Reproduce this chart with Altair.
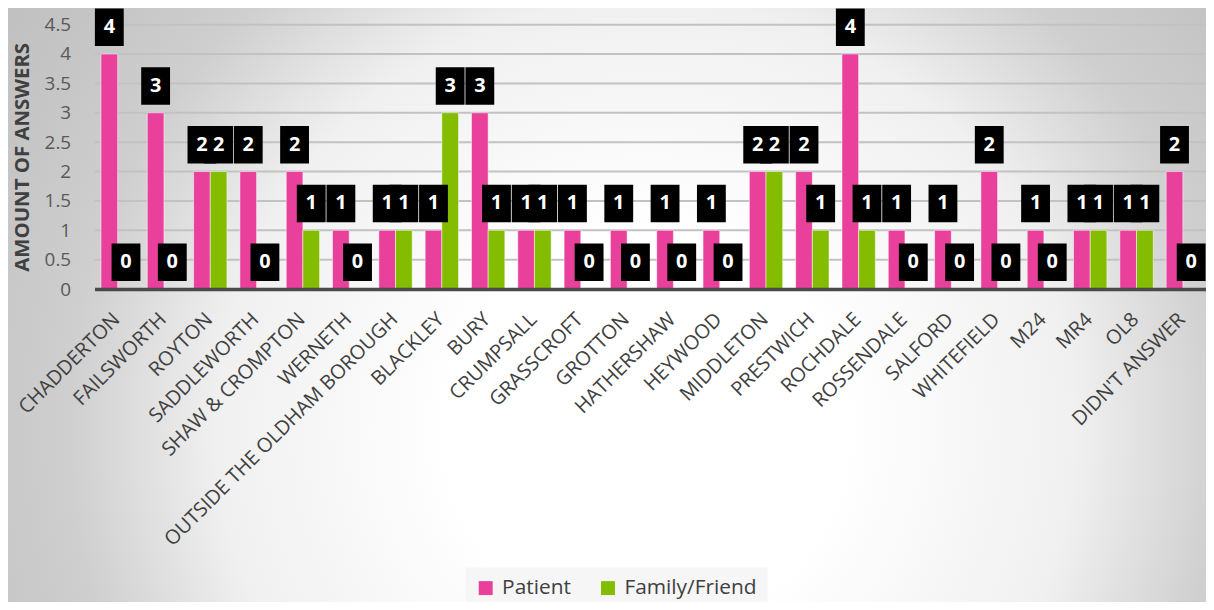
import altair as alt
import pandas as pd

categories = ["CHADDERTON", "FAILSWORTH", "ROYTON", "SADDLEWORTH", "SHAW & CROMPTON",
              "WERNETH", "OUTSIDE THE OLDHAM BOROUGH", "BLACKLEY", "BURY", "CRUMPSALL",
              "GRASSCROFT", "GROTTON", "HATHERSHAW", "HEYWOOD", "MIDDLETON", "PRESTWICH",
              "ROCHDALE", "ROSSENDALE", "SALFORD", "WHITEFIELD", "M24", "MR4", "OL8",
              "DIDN'T ANSWER"]
patient = [4, 3, 2, 2, 2, 1, 1, 1, 3, 1, 1, 1, 1, 1, 2, 2, 4, 1, 1, 2, 1, 1, 1, 2]
family = [0, 0, 2, 0, 1, 0, 1, 3, 1, 1, 0, 0, 0, 0, 2, 1, 1, 0, 0, 0, 0, 1, 1, 0]
series_names = ["Patient", "Family/Friend"]
series_colors = ["#E8409B", "#84BC00"]
y_ticks = [0, 0.5, 1, 1.5, 2, 2.5, 3, 3.5, 4, 4.5]
grid_values = [0.5, 1, 1.5, 2, 2.5, 3, 3.5, 4, 4.5]

rows = []
for c, p, f in zip(categories, patient, family):
    rows.append({"area": c, "series": series_names[0], "count": p})
    rows.append({"area": c, "series": series_names[1], "count": f})
df = pd.DataFrame(rows)
grid_df = pd.DataFrame({"count": grid_values})

W, H = 1118, 266
FONT = "Open Sans"

x_axis = alt.Axis(title=None, labelAngle=-45, labelFontSize=20, labelColor="#404040",
                  labelFont=FONT, labelLimit=500, ticks=False, domainColor="#4a4a4a",
                  domainWidth=3.5, labelPadding=20, labelOffset=-8, zindex=1)
y_axis = alt.Axis(title="AMOUNT OF ANSWERS", values=y_ticks, labelExpr="datum.value",
                  grid=False, ticks=False, domain=False, labelFontSize=19,
                  labelColor="#595959", labelFont=FONT, labelPadding=24,
                  titleFont=FONT, titleFontSize=20.5, titleFontWeight="bold",
                  titleColor="#404040", titlePadding=12, zindex=1)

x_enc = alt.X("area:N", sort=categories,
              scale=alt.Scale(paddingInner=0.28, paddingOuter=0.14), axis=x_axis)
y_enc = alt.Y("count:Q", scale=alt.Scale(domain=[0, 4.5], nice=False), axis=y_axis)
xo_enc = alt.XOffset("series:N", sort=series_names,
                     scale=alt.Scale(domain=series_names, paddingInner=0, paddingOuter=0))

bg = alt.Chart(alt.Data(values=[{"k": 1}])).mark_rect(
    color=alt.Gradient(
        gradient="radial", x1=0.5, y1=0.5, r1=0, x2=0.5, y2=0.5, r2=0.5,
        stops=[alt.GradientStop(color="#ffffff", offset=0),
               alt.GradientStop(color="#ffffff", offset=0.25),
               alt.GradientStop(color="#f0f0f0", offset=0.54),
               alt.GradientStop(color="#cfcfcf", offset=0.725),
               alt.GradientStop(color="#c6c6c6", offset=0.85),
               alt.GradientStop(color="#bebebe", offset=1)])
).encode(x=alt.value(-245), x2=alt.value(1355), y=alt.value(-393), y2=alt.value(1207))

grid = alt.Chart(grid_df).mark_rule(color="#c2c2c2", strokeWidth=2).encode(y=y_enc)

bars = alt.Chart(df).mark_bar(stroke="#ffffff", strokeWidth=1, strokeOpacity=0.5).encode(
    x=x_enc, xOffset=xo_enc, y=y_enc,
    color=alt.Color("series:N", sort=series_names,
                    scale=alt.Scale(domain=series_names, range=series_colors),
                    legend=alt.Legend(title=None, orient="none", legendX=373, legendY=546,
                                      direction="horizontal", symbolType="square",
                                      symbolSize=196, labelFontSize=21, labelFont=FONT,
                                      labelColor="#404040", fillColor="#f6f6f6",
                                      padding=10, columnPadding=26, labelOffset=6,
                                      symbolStrokeWidth=0))
)

boxes = alt.Chart(df).mark_point(
    shape="M-1,-1.3L1,-1.3L1,1.3L-1,1.3Z", size=841, filled=True,
    color="#000000", opacity=1, strokeWidth=0, yOffset=-27
).encode(x=x_enc, xOffset=xo_enc, y=y_enc)

texts = alt.Chart(df).mark_text(
    color="#ffffff", font=FONT, fontSize=20, fontWeight="bold", yOffset=-27,
    baseline="middle"
).encode(x=x_enc, xOffset=xo_enc, y=y_enc, text=alt.Text("count:Q"))

chart = alt.layer(bg, grid, bars, boxes, texts).properties(
    width=W, height=H,
    padding={"left": 87, "top": 15, "right": 0, "bottom": 313},
    autosize=alt.AutoSizeParams(type="none"),
    background="#e8e8e8"
).configure_view(strokeWidth=0)

chart.save("out.html", embed_options={"renderer": "svg", "actions": False})
